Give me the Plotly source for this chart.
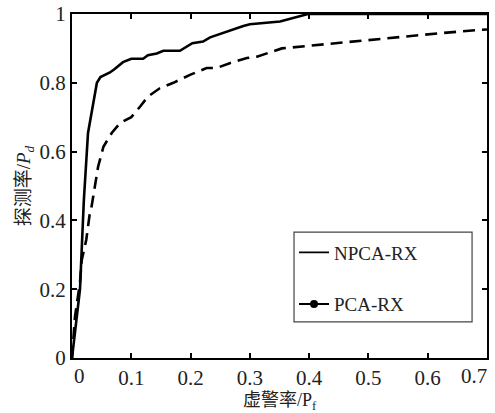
import plotly.graph_objects as go

# ROC curves: false-alarm rate (Pf) vs detection rate (Pd)
npca_pf = [0.0, 0.0135, 0.0185, 0.020, 0.027, 0.037, 0.042, 0.048, 0.064, 0.072, 0.086,
           0.100, 0.120, 0.128, 0.143, 0.154, 0.182, 0.203, 0.221, 0.233, 0.260, 0.289,
           0.300, 0.351, 0.398, 0.700]
npca_pd = [0.0, 0.200, 0.400, 0.459, 0.654, 0.760, 0.800, 0.817, 0.830, 0.840, 0.860,
           0.870, 0.870, 0.880, 0.885, 0.893, 0.893, 0.915, 0.920, 0.932, 0.949, 0.965,
           0.970, 0.978, 1.000, 1.000]

pca_pf = [0.0, 0.005, 0.0135, 0.0165, 0.024, 0.030, 0.033, 0.044, 0.053, 0.067, 0.081,
          0.100, 0.115, 0.128, 0.148, 0.171, 0.199, 0.227, 0.244, 0.266, 0.295, 0.312,
          0.354, 0.396, 0.447, 0.497, 0.525, 0.581, 0.626, 0.683, 0.700]
pca_pd = [0.0, 0.120, 0.220, 0.285, 0.343, 0.420, 0.440, 0.556, 0.614, 0.654, 0.683,
          0.700, 0.731, 0.760, 0.784, 0.800, 0.823, 0.843, 0.843, 0.857, 0.872, 0.876,
          0.900, 0.907, 0.917, 0.924, 0.930, 0.939, 0.945, 0.953, 0.955]

x_ticks = [0, 0.1, 0.2, 0.3, 0.4, 0.5, 0.6, 0.7]
x_tick_text = ["0", "0.1", "0.2", "0.3", "0.4", "0.5", "0.6", "0.7"]
y_ticks = [0, 0.2, 0.4, 0.6, 0.8, 1.0]
y_tick_text = ["0", "0.2", "0.4", "0.6", "0.8", "1"]

serif = "Liberation Serif"
cjk = "Liberation Serif, Noto Sans CJK SC"
ink = "#222"
tick_size = 21

fig = go.Figure()
fig.add_trace(go.Scatter(x=npca_pf, y=npca_pd, mode="lines", showlegend=False,
                         line=dict(color="black", width=2.6)))
fig.add_trace(go.Scatter(x=pca_pf, y=pca_pd, mode="lines", showlegend=False,
                         line=dict(color="black", width=2.6, dash="12px,7px")))

# legend entries
fig.add_trace(go.Scatter(x=[None], y=[None], mode="lines", name="NPCA-RX",
                         legendgroup="a", line=dict(color="black", width=1.8)))
fig.add_trace(go.Scatter(x=[None], y=[None], mode="lines+markers", name="PCA-RX",
                         legendgroup="b", line=dict(color="black", width=1.8),
                         marker=dict(color="black", size=8)))

axis_common = dict(showline=True, linecolor="black", linewidth=2, mirror="ticks",
                   ticks="inside", ticklen=5, tickwidth=1.5, tickcolor="black",
                   showgrid=False, zeroline=False, automargin=False,
                   tickfont=dict(family=serif, size=tick_size, color=ink))

# end labels of the x axis sit inside the axis span, so they are drawn as annotations
inner_text = [t if 0 < v < 0.7 else "" for v, t in zip(x_ticks, x_tick_text)]
fig.update_xaxes(range=[0, 0.7], tickvals=x_ticks, ticktext=inner_text,
                 title=dict(text="虚警率/P<sub>f</sub>", font=dict(family=cjk, size=18, color=ink),
                            standoff=2),
                 **axis_common)
fig.update_yaxes(range=[0, 1], tickvals=y_ticks, ticktext=y_tick_text,
                 title=dict(text="探测率/<i>P</i><sub><i>d</i></sub>", font=dict(family=cjk, size=19, color=ink),
                            standoff=4),
                 **axis_common)

for v, t in zip(x_ticks, x_tick_text):
    if v == 0 or v == 0.7:
        fig.add_annotation(x=v, xref="x", y=0, yref="paper", text=t, showarrow=False,
                           xanchor="left" if v == 0 else "right", yanchor="top",
                           xshift=0 if v == 0 else 2, yshift=-4,
                           font=dict(family=serif, size=tick_size, color=ink))

# legend frame
fig.add_shape(type="rect", xref="paper", yref="paper", x0=0.535, x1=0.964, y0=0.105, y1=0.366,
              line=dict(color="#444", width=1.2), fillcolor="white", layer="below")

fig.update_layout(
    width=495, height=413,
    margin=dict(l=72, r=8, t=14, b=55, autoexpand=False),
    paper_bgcolor="white", plot_bgcolor="white",
    showlegend=True,
    legend=dict(x=0.535, y=0.362, xanchor="left", yanchor="top",
                bgcolor="rgba(0,0,0,0)", borderwidth=0,
                font=dict(family=serif, size=19, color=ink),
                tracegroupgap=24, itemwidth=30),
)

fig.write_html("out.html")
